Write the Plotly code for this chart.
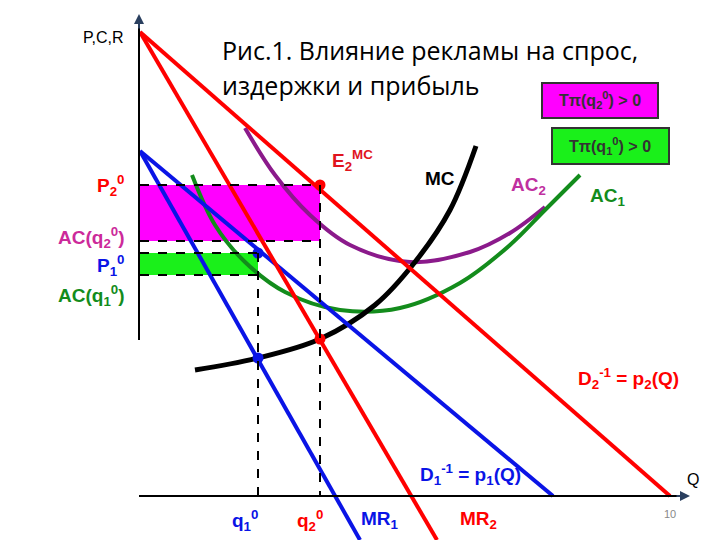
import plotly.graph_objects as go

# pixel-like coordinate system (x right, y down)
D2_x = [140, 670]; D2_y = [32, 496]
MR2_x = [140, 437]; MR2_y = [32, 540]
D1_x = [140, 553]; D1_y = [151, 496]
MR1_x = [140, 360]; MR1_y = [151, 540]
MC_x = [195, 258, 320, 375, 415, 450, 476]; MC_y = [370, 358, 339, 305, 262, 210, 146]
AC2_x = [245, 275, 310, 350, 410, 470, 510, 545]; AC2_y = [128, 175, 215, 245, 262, 252, 233, 207]
AC1_x = [192, 215, 245, 285, 340, 400, 460, 510, 545, 580]; AC1_y = [175, 225, 262, 292, 310, 308, 283, 245, 210, 175]
q_vals = [258, 320]
P2, ACq2, P1, ACq1 = 185, 241, 253, 275
E_pts_x = [320, 320]; E_pts_y = [185, 339]
B_pts_x = [258, 258]; B_pts_y = [253, 358]

RED = "#ff0000"; BLUE = "#0a14e6"; GREEN = "#138c1c"; PURPLE = "#8b1a8b"; MAG = "#ff00ff"; LGREEN = "#1af01a"

fig = go.Figure()
fig.add_shape(type="rect", x0=140, x1=q_vals[1], y0=P2, y1=ACq2, fillcolor=MAG, line=dict(width=0), layer="below")
fig.add_shape(type="rect", x0=140, x1=q_vals[0], y0=P1, y1=ACq1, fillcolor=LGREEN, line=dict(width=0), layer="below")
dash = dict(color="black", width=2, dash="dash")
for y, x1 in [(P2, 320), (ACq2, 320), (P1, 258), (ACq1, 258)]:
    fig.add_shape(type="line", x0=140, x1=x1, y0=y, y1=y, line=dash)
fig.add_shape(type="line", x0=320, x1=320, y0=P2, y1=496, line=dash)
fig.add_shape(type="line", x0=258, x1=258, y0=P1, y1=496, line=dash)
fig.add_shape(type="line", x0=139, x1=139, y0=340, y1=18, line=dict(color="black", width=2))
fig.add_shape(type="line", x0=139, x1=685, y0=496, y1=496, line=dict(color="black", width=2))
fig.add_annotation(x=139, y=14, ax=139, ay=30, xref="x", yref="y", axref="x", ayref="y", showarrow=True, arrowhead=2, arrowsize=1, arrowwidth=2, text="")
fig.add_annotation(x=690, y=496, ax=675, ay=496, xref="x", yref="y", axref="x", ayref="y", showarrow=True, arrowhead=2, arrowsize=1, arrowwidth=2, text="")

def line(x, y, c, w=4, spline=False):
    fig.add_trace(go.Scatter(x=x, y=y, mode="lines", line=dict(color=c, width=w, shape="spline" if spline else "linear"), hoverinfo="skip"))

line(AC2_x, AC2_y, PURPLE, spline=True)
line(AC1_x, AC1_y, GREEN, spline=True)
line(MC_x, MC_y, "black", 5, spline=True)
line(D1_x, D1_y, BLUE)
line(MR1_x, MR1_y, BLUE)
line(D2_x, D2_y, RED)
line(MR2_x, MR2_y, RED)
fig.add_trace(go.Scatter(x=E_pts_x, y=E_pts_y, mode="markers", marker=dict(color=RED, size=11)))
fig.add_trace(go.Scatter(x=B_pts_x, y=B_pts_y, mode="markers", marker=dict(color=BLUE, size=11)))

def txt(x, y, s, c, size=19, bold=True, xa="center", fam="Liberation Sans", **kw):
    fig.add_annotation(x=x, y=y, text=(f"<b>{s}</b>" if bold else s), showarrow=False, xanchor=xa,
                       font=dict(color=c, size=size, family=fam), **kw)

txt(220, 50, "Рис.1. Влияние рекламы на спрос,", "black", 25, False, "left", "Open Sans")
txt(220, 85, "издержки и прибыль", "black", 25, False, "left", "Open Sans")
txt(126, 37, "P,C,R", "black", 16, False, "right")
txt(127, 185, "P<sub>2</sub><sup>0</sup>", RED, 19, True, "right")
txt(127, 237, "AC(q<sub>2</sub><sup>0</sup>)", "#cc2a9a", 19, True, "right")
txt(127, 265, "P<sub>1</sub><sup>0</sup>", BLUE, 19, True, "right")
txt(127, 295, "AC(q<sub>1</sub><sup>0</sup>)", GREEN, 19, True, "right")
txt(352, 160, "E<sub>2</sub><sup>MC</sup>", "#e0141e", 19)
txt(440, 178, "MC", "black", 19)
txt(528, 186, "AC<sub>2</sub>", "#c030a0", 19)
txt(607, 197, "AC<sub>1</sub>", GREEN, 19)
txt(628, 378, "D<sub>2</sub><sup>-1</sup> = p<sub>2</sub>(Q)", RED, 19)
txt(470, 474, "D<sub>1</sub><sup>-1</sup> = p<sub>1</sub>(Q)", BLUE, 19)
txt(245, 520, "q<sub>1</sub><sup>0</sup>", BLUE, 19)
txt(310, 520, "q<sub>2</sub><sup>0</sup>", RED, 19)
txt(380, 520, "MR<sub>1</sub>", BLUE, 19)
txt(478, 520, "MR<sub>2</sub>", RED, 19)
txt(693, 479, "Q", "black", 16, False)
txt(670, 514, "10", "#888888", 11, False)
fig.add_shape(type="rect", x0=542, x1=658, y0=83, y1=118, fillcolor=MAG, line=dict(color="#333333", width=2))
fig.add_shape(type="rect", x0=552, x1=669, y0=128, y1=164, fillcolor=LGREEN, line=dict(color="#333333", width=2))
txt(600, 100, "Tπ(q<sub>2</sub><sup>0</sup>) > 0", "#333333", 16)
txt(610, 146, "Tπ(q<sub>1</sub><sup>0</sup>) > 0", "#333333", 16)

fig.update_layout(width=720, height=540, margin=dict(l=0, r=0, t=0, b=0), showlegend=False,
                  plot_bgcolor="white", paper_bgcolor="white",
                  xaxis=dict(range=[8, 728], visible=False, fixedrange=True),
                  yaxis=dict(range=[548, 8], visible=False, fixedrange=True))
fig.write_html("out.html")
